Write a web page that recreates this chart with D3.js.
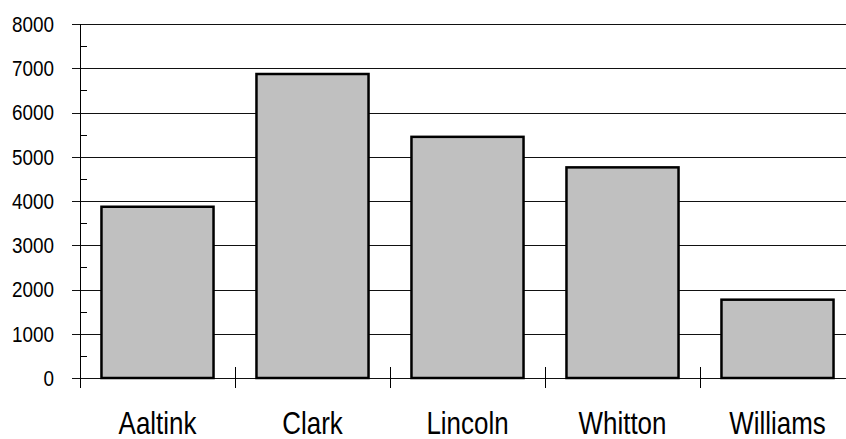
<!DOCTYPE html>
<html>
<head>
<meta charset="utf-8">
<script src="https://cdn.jsdelivr.net/npm/d3@7/dist/d3.min.js"></script>
<style>
  html, body { margin: 0; padding: 0; background: #fff; }
  svg { display: block; }
  text { font-family: "Liberation Sans", Arial, sans-serif; fill: #000; }
</style>
</head>
<body>
<svg id="chart" width="846" height="439"></svg>
<script>
const categories = ["Aaltink", "Clark", "Lincoln", "Whitton", "Williams"];
const values = [3870, 6870, 5450, 4760, 1770];
const yTicks = [0, 1000, 2000, 3000, 4000, 5000, 6000, 7000, 8000];
const yMinorTicks = [500, 1500, 2500, 3500, 4500, 5500, 6500, 7500];

const svg = d3.select("#chart");
const W = 846;

const y = d3.scaleLinear().domain([0, 8000]).range([378, 24]);
const x = d3.scaleBand().domain(categories).range([80, 855])
  .paddingInner(0.277).paddingOuter(0.1385);

const axisX = 80.5;

// gridlines (including outward major ticks)
svg.append("g").selectAll("line").data(yTicks).join("line")
  .attr("x1", 72).attr("x2", W)
  .attr("y1", d => Math.round(y(d)) + 0.5).attr("y2", d => Math.round(y(d)) + 0.5)
  .attr("stroke", "#111").attr("stroke-width", 1.2);

// minor ticks (inside)
svg.append("g").selectAll("line").data(yMinorTicks).join("line")
  .attr("x1", axisX).attr("x2", 87)
  .attr("y1", d => Math.round(y(d)) + 0.5).attr("y2", d => Math.round(y(d)) + 0.5)
  .attr("stroke", "#000").attr("stroke-width", 1);

// y axis line
svg.append("line")
  .attr("x1", axisX).attr("x2", axisX)
  .attr("y1", Math.round(y(8000))).attr("y2", 388)
  .attr("stroke", "#000").attr("stroke-width", 1);

// category boundary ticks
const step = x.step();
const boundaries = d3.range(categories.length + 1).map(i => x.range()[0] + i * step);
svg.append("g").selectAll("line").data(boundaries.filter(b => b < W)).join("line")
  .attr("x1", d => Math.round(d) + 0.5).attr("x2", d => Math.round(d) + 0.5)
  .attr("y1", 367).attr("y2", 388)
  .attr("stroke", "#000").attr("stroke-width", 1);

// bars
svg.append("g").selectAll("rect").data(categories).join("rect")
  .attr("x", d => x(d))
  .attr("y", (d, i) => y(values[i]))
  .attr("width", x.bandwidth())
  .attr("height", (d, i) => y(0) - y(values[i]))
  .attr("fill", "#c0c0c0")
  .attr("stroke", "#000")
  .attr("stroke-width", 2.5);

// y labels
svg.append("g").selectAll("text").data(yTicks).join("text")
  .attr("transform", d => `translate(54,${y(d)}) scale(0.84,1)`)
  .attr("dy", "0.35em")
  .attr("text-anchor", "end")
  .attr("font-size", 22.5)
  .text(d => d);

// category labels
svg.append("g").selectAll("text").data(categories).join("text")
  .attr("transform", d => `translate(${x(d) + x.bandwidth() / 2},434) scale(0.85,1)`)
  .attr("text-anchor", "middle")
  .attr("font-size", 30.5)
  .text(d => d);
</script>
</body>
</html>
